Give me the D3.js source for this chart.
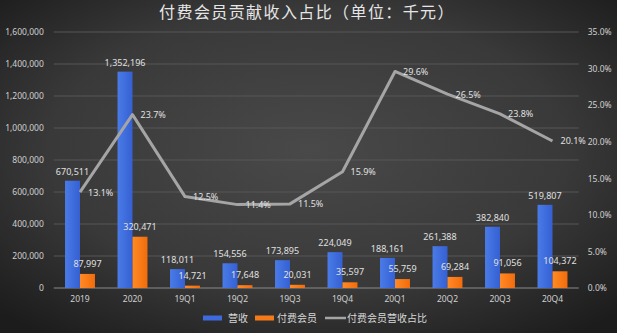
<!DOCTYPE html>
<html>
<head>
<meta charset="utf-8">
<script src="https://cdn.jsdelivr.net/npm/d3@7"></script>
<style>
  html, body { margin: 0; padding: 0; background: #2a2a2a; }
  svg { display: block; }
  text { font-family: "Noto Sans", "Noto Sans CJK SC", sans-serif; }
</style>
</head>
<body>
<svg id="chart" width="617" height="333"></svg>
<script>
// Categories (years and quarters)
const categories = ["2019", "2020", "19Q1", "19Q2", "19Q3", "19Q4", "20Q1", "20Q2", "20Q3", "20Q4"];
// Total revenue, thousand yuan
const revenue = [670511, 1352196, 118011, 154556, 173895, 224049, 188161, 261388, 382840, 519807];
// Paid-membership revenue, thousand yuan
const memberRevenue = [87997, 320471, 14721, 17648, 20031, 35597, 55759, 69284, 91056, 104372];
// Paid-membership share of revenue, percent
const share = [13.1, 23.7, 12.5, 11.4, 11.5, 15.9, 29.6, 26.5, 23.8, 20.1];
// Axis ticks
const leftTicks = [0, 200000, 400000, 600000, 800000, 1000000, 1200000, 1400000, 1600000];
const rightTicks = [0, 5, 10, 15, 20, 25, 30, 35];
const seriesNames = ["营收", "付费会员", "付费会员营收占比"];

const W = 617, H = 333;
const plot = { left: 53.75, right: 578.75, top: 32, bottom: 288 };
const svg = d3.select("#chart");

// Background: dark radial vignette
const defs = svg.append("defs");
const bg = defs.append("radialGradient").attr("id", "bg")
  .attr("cx", "50%").attr("cy", "45%").attr("r", "70%");
bg.append("stop").attr("offset", "0%").attr("stop-color", "#494949");
bg.append("stop").attr("offset", "60%").attr("stop-color", "#393939");
bg.append("stop").attr("offset", "100%").attr("stop-color", "#1c1c1c");
const blueGrad = defs.append("linearGradient").attr("id", "blueBar").attr("x1", "0").attr("x2", "1");
blueGrad.append("stop").attr("offset", "0%").attr("stop-color", "#4a7be8");
blueGrad.append("stop").attr("offset", "100%").attr("stop-color", "#3560d2");
const orangeGrad = defs.append("linearGradient").attr("id", "orangeBar").attr("x1", "0").attr("x2", "1");
orangeGrad.append("stop").attr("offset", "0%").attr("stop-color", "#ff8a25");
orangeGrad.append("stop").attr("offset", "100%").attr("stop-color", "#f26c0c");
svg.append("rect").attr("width", W).attr("height", H).attr("fill", "url(#bg)");

// Scales
const x = d3.scaleBand().domain(categories)
  .range([plot.left, plot.right]).paddingInner(0.43).paddingOuter(0.215);
const xSub = d3.scaleBand().domain(["rev", "mem"]).range([0, x.bandwidth()]);
const yL = d3.scaleLinear().domain([0, 1600000]).range([plot.bottom, plot.top]);
const yR = d3.scaleLinear().domain([0, 35]).range([plot.bottom, plot.top]);

// Grid lines
svg.append("g").selectAll("line").data(leftTicks.slice(1)).join("line")
  .attr("x1", plot.left).attr("x2", plot.right)
  .attr("y1", d => yL(d)).attr("y2", d => yL(d))
  .attr("stroke", "#575757").attr("stroke-width", 1);
svg.append("line").attr("x1", plot.left).attr("x2", plot.right)
  .attr("y1", yL(0)).attr("y2", yL(0)).attr("stroke", "#8a8a8a").attr("stroke-width", 1);

// Left axis
const leftAxis = svg.append("g").attr("transform", `translate(${plot.left - 10},0)`)
  .call(d3.axisLeft(yL).tickValues(leftTicks).tickFormat(d3.format(",")).tickSize(0).tickPadding(0));
leftAxis.select(".domain").remove();
leftAxis.selectAll("text").attr("fill", "#d0d0d0").attr("font-size", 8.5);

// Right axis
const rightAxis = svg.append("g").attr("transform", `translate(${plot.right + 9},0)`)
  .call(d3.axisRight(yR).tickValues(rightTicks).tickFormat(d => d.toFixed(1) + "%").tickSize(0).tickPadding(0));
rightAxis.select(".domain").remove();
rightAxis.selectAll("text").attr("fill", "#d0d0d0").attr("font-size", 8.5);

// Bottom axis
const bottomAxis = svg.append("g").attr("transform", `translate(0,${plot.bottom})`)
  .call(d3.axisBottom(x).tickSize(0).tickPadding(8));
bottomAxis.select(".domain").remove();
bottomAxis.selectAll("text").attr("fill", "#d0d0d0").attr("font-size", 8.5);

// Bars
const groups = svg.append("g").selectAll("g").data(categories).join("g")
  .attr("transform", d => `translate(${x(d)},0)`);
groups.append("rect")
  .attr("x", xSub("rev")).attr("width", xSub.bandwidth())
  .attr("y", (d, i) => yL(revenue[i])).attr("height", (d, i) => yL(0) - yL(revenue[i]))
  .attr("fill", "url(#blueBar)");
groups.append("rect")
  .attr("x", xSub("mem")).attr("width", xSub.bandwidth())
  .attr("y", (d, i) => yL(memberRevenue[i])).attr("height", (d, i) => yL(0) - yL(memberRevenue[i]))
  .attr("fill", "url(#orangeBar)");

// Share line
const line = d3.line()
  .x((d, i) => x(categories[i]) + x.bandwidth() / 2)
  .y(d => yR(d));
svg.append("path").datum(share).attr("d", line)
  .attr("fill", "none").attr("stroke", "#a5a5a5").attr("stroke-width", 3)
  .attr("stroke-linejoin", "round");

// Bar value labels
const fmt = d3.format(",");
groups.append("text")
  .attr("x", xSub("rev") + xSub.bandwidth() / 2)
  .attr("y", (d, i) => yL(revenue[i]) - 6)
  .attr("text-anchor", "middle").attr("font-size", 9).attr("fill", "#e0e0e0")
  .text((d, i) => fmt(revenue[i]));
groups.append("text")
  .attr("x", xSub("mem") + xSub.bandwidth() / 2)
  .attr("y", (d, i) => yL(memberRevenue[i]) - 7)
  .attr("text-anchor", "middle").attr("font-size", 9).attr("fill", "#e0e0e0")
  .text((d, i) => fmt(memberRevenue[i]));

// Line value labels, to the right of each point
svg.append("g").selectAll("text").data(share).join("text")
  .attr("x", (d, i) => x(categories[i]) + x.bandwidth() / 2 + 8)
  .attr("y", d => yR(d) + 3.5)
  .attr("font-size", 9).attr("fill", "#e0e0e0")
  .text(d => d.toFixed(1) + "%");

// Title
svg.append("text").attr("x", 307).attr("y", 18)
  .attr("text-anchor", "middle").attr("font-size", 16).attr("fill", "#e6e6e6")
  .attr("letter-spacing", 1.4)
  .style("font-family", "'Noto Sans CJK SC', sans-serif")
  .text("付费会员贡献收入占比（单位：千元）");

// Legend
const legend = svg.append("g").attr("transform", "translate(0,318)");
legend.append("rect").attr("x", 203).attr("y", -2.5).attr("width", 19).attr("height", 5).attr("fill", "#3d6ade");
legend.append("text").attr("x", 228).attr("y", 3.5).attr("font-size", 10).attr("fill", "#d8d8d8")
  .style("font-family", "'Noto Sans CJK SC', sans-serif").text(seriesNames[0]);
legend.append("rect").attr("x", 255).attr("y", -2.5).attr("width", 19).attr("height", 5).attr("fill", "#f57a18");
legend.append("text").attr("x", 277).attr("y", 3.5).attr("font-size", 10).attr("fill", "#d8d8d8")
  .style("font-family", "'Noto Sans CJK SC', sans-serif").text(seriesNames[1]);
legend.append("line").attr("x1", 325).attr("x2", 346).attr("y1", 0).attr("y2", 0)
  .attr("stroke", "#a5a5a5").attr("stroke-width", 2.5);
legend.append("text").attr("x", 347).attr("y", 3.5).attr("font-size", 10).attr("fill", "#d8d8d8")
  .style("font-family", "'Noto Sans CJK SC', sans-serif").text(seriesNames[2]);
</script>
</body>
</html>
